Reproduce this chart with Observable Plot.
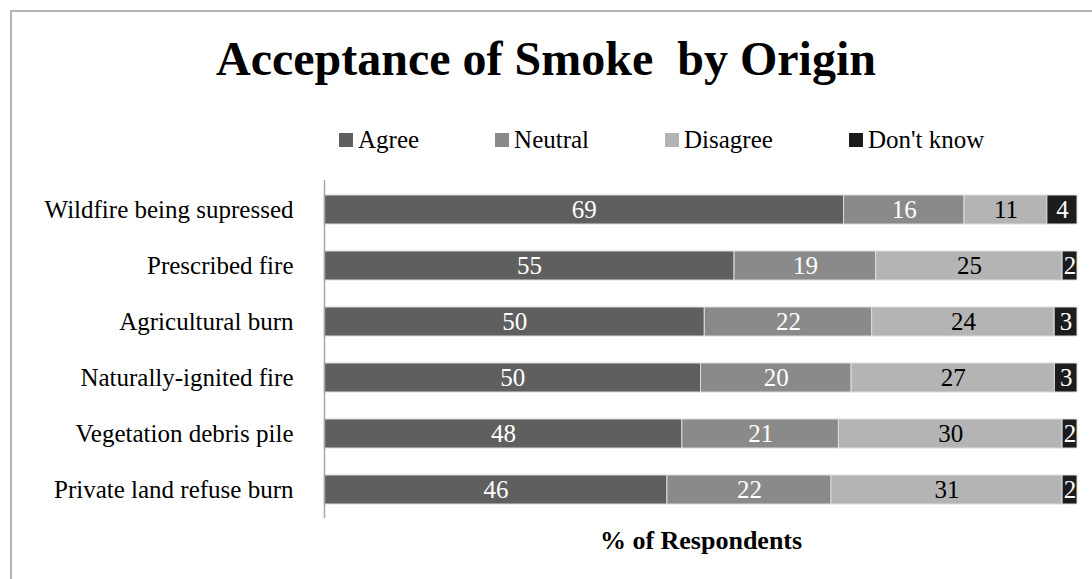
<!DOCTYPE html>
<html>
<head>
<meta charset="utf-8">
<script src="https://cdn.jsdelivr.net/npm/d3@7"></script>
<script src="https://cdn.jsdelivr.net/npm/@observablehq/plot@0.6"></script>
<style>
  html, body { margin: 0; padding: 0; background: #fff; overflow: hidden; }
  #wrap { position: relative; width: 1092px; height: 579px; overflow: hidden; font-family: "Liberation Serif", "Times New Roman", serif; }
  #frame { position: absolute; left: 10px; top: 10px; width: 1200px; height: 700px; border: 2px solid #b4b4b4; box-sizing: border-box; }
  #title { position: absolute; left: 0; top: 31px; width: 1092px; text-align: center; font-weight: bold; font-size: 48px; line-height: 56px; color: #000; white-space: pre; }
  #legend { position: absolute; left: 339px; top: 125px; display: flex; gap: 76px; font-size: 25px; line-height: 30px; color: #000; }
  #legend .item { display: flex; align-items: center; }
  #legend .sw { width: 14px; height: 14px; margin-right: 5px; }
  #chart { position: absolute; left: 0; top: 160px; }
</style>
</head>
<body>
<div id="wrap">
  <div id="frame"></div>
  <div id="title"></div>
  <div id="legend"></div>
  <div id="chart"></div>
</div>
<script>
const titleText = "Acceptance of Smoke  by Origin";
const xLabel = "% of Respondents";
const origins = [
  "Wildfire being supressed",
  "Prescribed fire",
  "Agricultural burn",
  "Naturally-ignited fire",
  "Vegetation debris pile",
  "Private land refuse burn"
];
const responses = ["Agree", "Neutral", "Disagree", "Don't know"];
const colors = ["#5f5f5f", "#8a8a8a", "#b4b4b4", "#1c1c1c"];
const agree    = [69, 55, 50, 50, 48, 46];
const neutral  = [16, 19, 22, 20, 21, 22];
const disagree = [11, 25, 24, 27, 30, 31];
const dontKnow = [4, 2, 3, 3, 2, 2];

const series = [agree, neutral, disagree, dontKnow];
const data = [];
origins.forEach((o, i) => {
  responses.forEach((r, j) => {
    data.push({origin: o, response: r, value: series[j][i]});
  });
});

document.getElementById("title").textContent = titleText;
const legend = document.getElementById("legend");
responses.forEach((r, j) => {
  const item = document.createElement("div");
  item.className = "item";
  const sw = document.createElement("span");
  sw.className = "sw";
  sw.style.background = colors[j];
  const t = document.createElement("span");
  t.textContent = r;
  item.appendChild(sw);
  item.appendChild(t);
  legend.appendChild(item);
});

const stackOpts = {x: "value", y: "origin", offset: "normalize", order: null};

const plot = Plot.plot({
  width: 1092,
  height: 419,
  marginTop: 20,
  marginBottom: 61,
  marginLeft: 324,
  marginRight: 15,
  style: {fontFamily: "'Liberation Serif', 'Times New Roman', serif", background: "transparent"},
  x: {axis: null},
  y: {domain: origins, paddingInner: 0.485, paddingOuter: 0.2425, label: null},
  color: {domain: responses, range: colors},
  marks: [
    Plot.barX(data, Plot.stackX({...stackOpts, fill: "response", stroke: "#dcdcdc", strokeWidth: 1})),
    Plot.text(data, Plot.stackX({...stackOpts, text: d => d.response !== "Disagree" ? d.value : null, fill: "white", fontSize: 25})),
    Plot.text(data, Plot.stackX({...stackOpts, text: d => d.response === "Disagree" ? d.value : null, fill: "black", fontSize: 25})),
    Plot.ruleX([0], {stroke: "#a6a6a6", strokeWidth: 1.5}),
    Plot.axisY({tickSize: 0, tickPadding: 31, fontSize: 25, color: "#000", label: null}),
    Plot.text([xLabel], {frameAnchor: "bottom", dy: 12, lineAnchor: "top", fontSize: 26, fontWeight: "bold", fill: "#000"})
  ]
});
document.getElementById("chart").appendChild(plot);
</script>
</body>
</html>
